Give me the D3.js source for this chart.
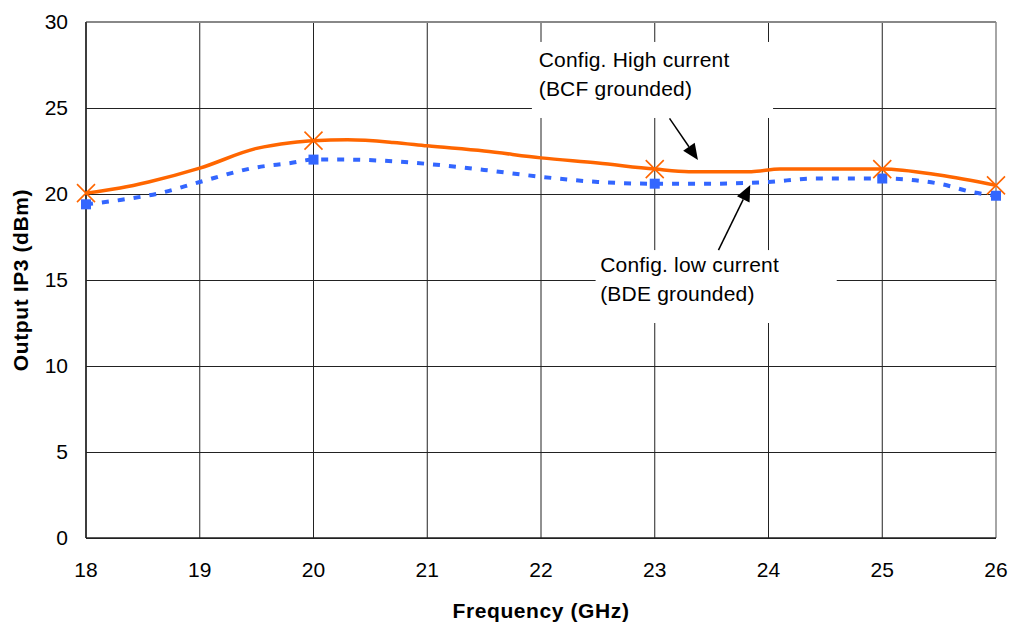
<!DOCTYPE html>
<html>
<head>
<meta charset="utf-8">
<script src="https://cdn.jsdelivr.net/npm/d3@7"></script>
<style>
  body { margin: 0; background: #fff; }
  svg text { font-family: "Liberation Sans", Arial, sans-serif; fill: #000; }
</style>
</head>
<body>
<svg id="chart" width="1010" height="625"></svg>
<script>
// data
const freqHigh = [18, 18.3, 18.55, 19, 19.5, 19.8, 20, 20.3, 20.7, 21, 21.5, 22, 22.5, 23, 23.3, 23.85, 24.1, 25, 25.5, 26]
const high = [20.05, 20.35, 20.7, 21.5, 22.65, 22.98, 23.1, 23.15, 23.0, 22.8, 22.5, 22.1, 21.8, 21.45, 21.3, 21.3, 21.45, 21.45, 21.1, 20.5]
const freqLow = [18, 18.3, 18.65, 19, 19.5, 19.8, 20, 20.3, 20.7, 21, 21.5, 22, 22.5, 23, 23.5, 24, 24.4, 25, 25.5, 25.8, 26]
const low = [19.4, 19.65, 20.05, 20.7, 21.55, 21.8, 22.0, 22.0, 21.9, 21.75, 21.4, 21.0, 20.7, 20.6, 20.6, 20.7, 20.9, 20.9, 20.6, 20.1, 19.9]
const markerFreq = [18, 20, 23, 25, 26]
const highMarkers = [20.05, 23.1, 21.45, 21.45, 20.5]
const lowMarkers = [19.4, 22.0, 20.6, 20.9, 19.9]
const xTicks = [18, 19, 20, 21, 22, 23, 24, 25, 26]
const yTicks = [0, 5, 10, 15, 20, 25, 30]

const colorHigh = '#ff6600'
const colorLow = '#3366ff'
const width = 1010
const height = 625
const margin = {top: 22, right: 14, bottom: 87, left: 86}

const svg = d3.select('#chart')

const x = d3.scaleLinear().domain([18, 26]).range([margin.left, width - margin.right])
const y = d3.scaleLinear().domain([0, 30]).range([height - margin.bottom, margin.top])

// grid
const grid = svg.append('g')
grid.selectAll('line.v')
  .data(xTicks)
  .join('line')
  .attr('x1', d => x(d)).attr('x2', d => x(d))
  .attr('y1', y(0)).attr('y2', y(30))
  .attr('stroke', d => d === 26 ? '#888' : '#222')
  .attr('stroke-width', d => d === 26 ? 1.5 : 1)
grid.selectAll('line.h')
  .data(yTicks)
  .join('line')
  .attr('x1', x(18)).attr('x2', x(26))
  .attr('y1', d => y(d)).attr('y2', d => y(d))
  .attr('stroke', d => d === 30 ? '#888' : '#222')
  .attr('stroke-width', d => d === 30 ? 1.5 : 1)
  .attr('shape-rendering', 'crispEdges')

// white boxes behind the two labels
const boxes = [
  {x0: 21.92, x1: 24.04, y0: 28.84, y1: 24.42},
  {x0: 22.48, x1: 24.6, y0: 16.74, y1: 12.5}
]
svg.append('g').selectAll('rect')
  .data(boxes)
  .join('rect')
  .attr('x', d => x(d.x0)).attr('y', d => y(d.y0))
  .attr('width', d => x(d.x1) - x(d.x0)).attr('height', d => y(d.y1) - y(d.y0))
  .attr('fill', '#fff')

// axes lines
svg.append('line')
  .attr('x1', x(18)).attr('x2', x(18)).attr('y1', y(0)).attr('y2', y(30))
  .attr('stroke', '#222').attr('stroke-width', 1.5)
svg.append('line')
  .attr('x1', x(18)).attr('x2', x(26)).attr('y1', y(0)).attr('y2', y(0))
  .attr('stroke', '#222').attr('stroke-width', 1.5)

// tick labels
svg.append('g')
  .attr('font-size', 21)
  .selectAll('text')
  .data(yTicks)
  .join('text')
  .attr('x', x(18) - 18)
  .attr('y', d => y(d))
  .attr('dy', '0.35em')
  .attr('text-anchor', 'end')
  .text(d => d)
svg.append('g')
  .attr('font-size', 21)
  .selectAll('text')
  .data(xTicks)
  .join('text')
  .attr('x', d => x(d))
  .attr('y', y(0) + 39)
  .attr('text-anchor', 'middle')
  .text(d => d)

// axis titles
svg.append('text')
  .attr('x', (x(18) + x(26)) / 2)
  .attr('y', 618)
  .attr('text-anchor', 'middle')
  .attr('font-size', 21)
  .attr('font-weight', 'bold')
  .attr('letter-spacing', 0.6)
  .text('Frequency (GHz)')
svg.append('text')
  .attr('transform', `translate(28,${(y(0) + y(30)) / 2}) rotate(-90)`)
  .attr('text-anchor', 'middle')
  .attr('font-size', 21)
  .attr('font-weight', 'bold')
  .attr('letter-spacing', 0.6)
  .text('Output IP3 (dBm)')

// series
const line = d3.line()
  .x(d => x(d[0]))
  .y(d => y(d[1]))
  .curve(d3.curveMonotoneX)

svg.append('path')
  .datum(d3.zip(freqLow, low))
  .attr('d', line)
  .attr('fill', 'none')
  .attr('stroke', colorLow)
  .attr('stroke-width', 4)
  .attr('stroke-dasharray', '7,9')

svg.append('path')
  .datum(d3.zip(freqHigh, high))
  .attr('d', line)
  .attr('fill', 'none')
  .attr('stroke', colorHigh)
  .attr('stroke-width', 3.5)

svg.append('g').selectAll('rect')
  .data(d3.zip(markerFreq, lowMarkers))
  .join('rect')
  .attr('x', d => x(d[0]) - 5)
  .attr('y', d => y(d[1]) - 5)
  .attr('width', 10).attr('height', 10)
  .attr('fill', colorLow)

svg.append('g').selectAll('path')
  .data(d3.zip(markerFreq, highMarkers))
  .join('path')
  .attr('d', d => {
    const cx = x(d[0]), cy = y(d[1]), r = 9
    return `M${cx - r},${cy - r}L${cx + r},${cy + r}M${cx - r},${cy + r}L${cx + r},${cy - r}`
  })
  .attr('stroke', colorHigh)
  .attr('stroke-width', 1.6)
  .attr('fill', 'none')

// annotation arrows
const arrows = [
  {from: [23.13, 24.4], to: [23.38, 21.98]},
  {from: [23.56, 16.74], to: [23.84, 20.52]}
]
arrows.forEach(a => {
  const x0 = x(a.from[0]), y0 = y(a.from[1])
  const x1 = x(a.to[0]), y1 = y(a.to[1])
  const ang = Math.atan2(y1 - y0, x1 - x0)
  const len = 16, half = 7
  const bx = x1 - len * Math.cos(ang), by = y1 - len * Math.sin(ang)
  svg.append('line')
    .attr('x1', x0).attr('y1', y0).attr('x2', bx).attr('y2', by)
    .attr('stroke', '#000').attr('stroke-width', 1.5)
  svg.append('path')
    .attr('d', `M${x1},${y1}L${bx + half * Math.sin(ang)},${by - half * Math.cos(ang)}L${bx - half * Math.sin(ang)},${by + half * Math.cos(ang)}Z`)
    .attr('fill', '#000')
})

// annotation labels
const labels = [
  {fx: 21.98, fy: 27.37, lines: ['Config. High current', '(BCF grounded)']},
  {fx: 22.52, fy: 15.47, lines: ['Config. low current', '(BDE grounded)']}
]
labels.forEach(l => {
  svg.append('text')
    .attr('x', x(l.fx))
    .attr('y', y(l.fy))
    .attr('font-size', 21)
    .attr('letter-spacing', 0.2)
    .selectAll('tspan')
    .data(l.lines)
    .join('tspan')
    .attr('x', x(l.fx))
    .attr('dy', (d, i) => i === 0 ? 0 : 29)
    .text(d => d)
})
</script>
</body>
</html>
